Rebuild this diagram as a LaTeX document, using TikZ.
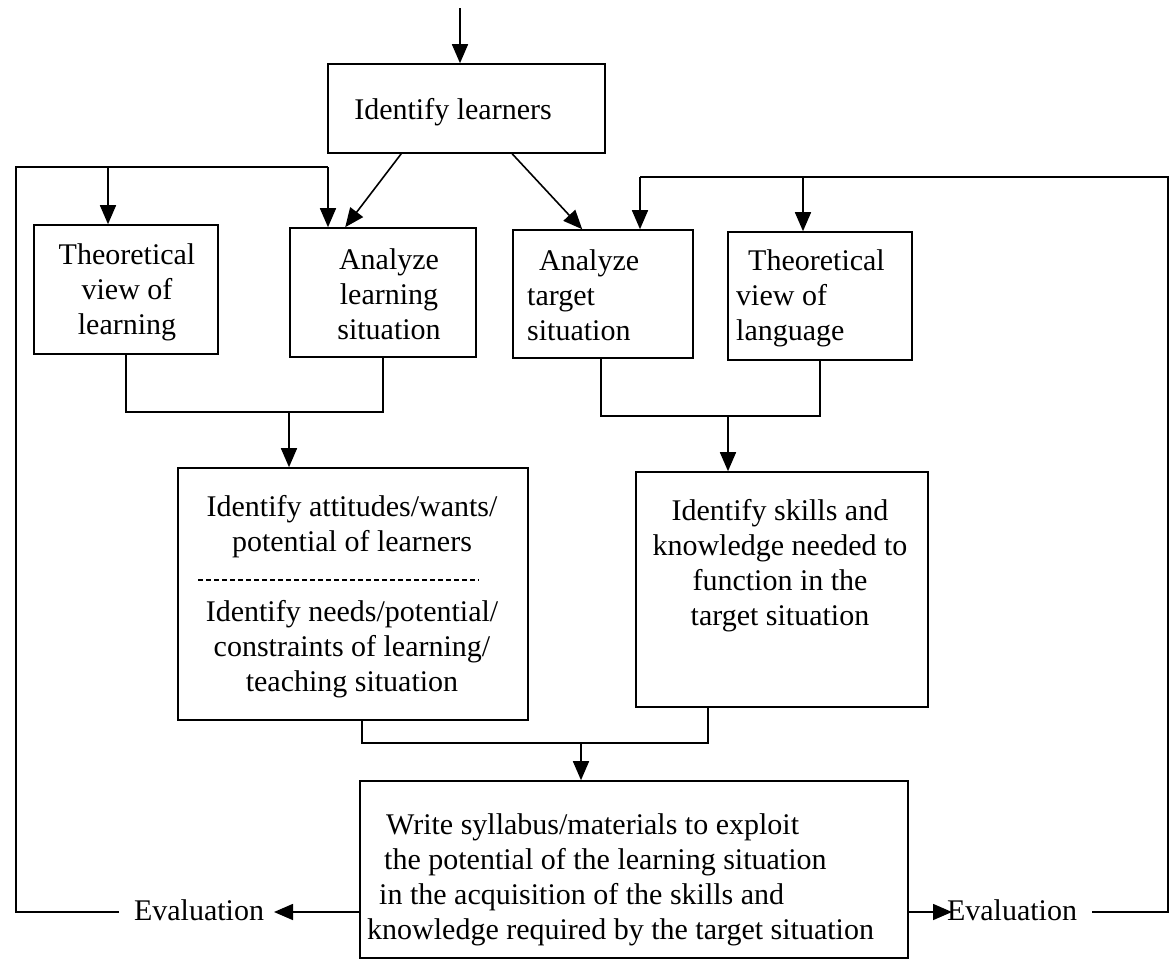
\documentclass[tikz,border=0pt]{standalone}
\usepackage{fontspec}
\setmainfont{Liberation Serif}
\usetikzlibrary{arrows.meta,calc}
\begin{document}
\begin{tikzpicture}[x=1pt,y=-1pt,
  box/.style={draw, line width=1.6pt, rectangle, inner sep=0pt},
  txt/.style={inner sep=0pt, font=\fontsize{30}{35}\selectfont},
  ln/.style={line width=1.6pt},
  arr/.style={line width=1.6pt, -{Triangle[length=19pt,width=16pt]}},
]
\fill[white] (0,0) rectangle (1171,961);
\useasboundingbox (0,0) rectangle (1171,961);

% boxes
\node[box, minimum width=277pt, minimum height=89pt] (il) at (466.5,108.5) {};
\node[box, minimum width=184pt, minimum height=129pt] (tlb) at (126,289.5) {};
\node[box, minimum width=186pt, minimum height=129pt] (alb) at (383,292.5) {};
\node[box, minimum width=180pt, minimum height=128pt] (atb) at (603,294) {};
\node[box, minimum width=184pt, minimum height=128pt] (tgb) at (820,296) {};
\node[box, minimum width=350pt, minimum height=252pt] (att) at (353,594) {};
\node[box, minimum width=292pt, minimum height=235pt] (skl) at (782,589.5) {};
\node[box, minimum width=548pt, minimum height=177pt] (wrt) at (634,869.5) {};

% texts
\node[txt] (ilt) at (453,112) {Identify learners};
\node[txt, align=center] (tlt) at (127,292) {Theoretical\\view of\\learning};
\node[txt, align=center] (alt) at (389,294) {Analyze\\learning\\situation};
\node[txt, align=left, anchor=west] (att0) at (527,295) {\hspace*{12pt}Analyze\\target\\situation};
\node[txt, align=left, anchor=west] (tgt) at (736,298) {\hspace*{12pt}Theoretical\\view of\\language};
\node[txt, align=center] (att1) at (352,527) {Identify attitudes/wants/\\potential of learners};
\node[txt, align=center] (att2) at (352,649) {Identify needs/potential/\\constraints of learning/\\teaching situation};
\draw[line width=1.2pt, dash pattern=on 5pt off 3pt] ([xshift=21pt]att.west |- 0,580) -- ([xshift=-50pt]att.east |- 0,580);
\node[txt, align=center] (sklt) at (780,566) {Identify skills and\\knowledge needed to\\function in the\\target situation};
\node[txt, align=left, anchor=west] (wrtt) at (367,880) {\hspace*{19pt}Write syllabus/materials to exploit\\\hspace*{17pt}the potential of the learning situation\\\hspace*{12pt}in the acquisition of the skills and\\knowledge required by the target situation};
\node[txt] (evL) at (199,910) {Evaluation};
\node[txt] (evR) at (1012,910) {Evaluation};

% top input and identify learners
\coordinate (topin) at (460,8);
\draw[arr] (topin) -- (topin |- il.north);
\draw[arr] ([xshift=74pt]il.south west) -- ([xshift=56pt]alb.north west);
\draw[arr] ([xshift=185pt]il.south west) -- ([xshift=70pt]atb.north west);

% left feedback loop
\coordinate (evLtip) at (274,912);
\coordinate (lbend) at (119,912);
\coordinate (lb) at (16,912);
\coordinate (lt) at (16,167);
\coordinate (le) at (328,167);
\coordinate (ltl) at (108,167);
\draw[arr] (wrt.west |- evLtip) -- (evLtip);
\draw[ln] (lbend) -- (lb) -- (lt) -- (le);
\draw[arr] (ltl) -- (ltl |- tlb.north);
\draw[arr] (le) -- (le |- alb.north);

% right feedback loop
\coordinate (evRtip) at (952,912);
\coordinate (rb0) at (1092,912);
\coordinate (rb) at (1168,912);
\coordinate (rt) at (1168,177);
\coordinate (re) at (640,177);
\coordinate (rtg) at (803,177);
\draw[arr] (wrt.east |- evRtip) -- (evRtip);
\draw[ln] (rb0) -- (rb) -- (rt) -- (re);
\draw[arr] (re) -- (re |- atb.north);
\draw[arr] (rtg) -- (rtg |- tgb.north);

% merges
\coordinate (m1) at (0,412);
\coordinate (m1a) at (289,412);
\draw[ln] (tlb.south) -- (tlb.south |- m1) -- (alb.south |- m1) -- (alb.south);
\draw[arr] (m1a) -- (m1a |- att.north);

\coordinate (m2) at (0,416);
\coordinate (m2a) at (728,416);
\draw[ln] ([xshift=-2pt]atb.south) -- ([xshift=-2pt]atb.south |- m2) -- (tgb.south |- m2) -- (tgb.south);
\draw[arr] (m2a) -- (m2a |- skl.north);

\coordinate (m3) at (0,743);
\coordinate (m3a) at (581,743);
\draw[ln] ([xshift=9pt]att.south) -- ([xshift=9pt]att.south |- m3) -- ([xshift=-74pt]skl.south |- m3) -- ([xshift=-74pt]skl.south);
\draw[arr] (m3a) -- (m3a |- wrt.north);
\end{tikzpicture}
\end{document}
